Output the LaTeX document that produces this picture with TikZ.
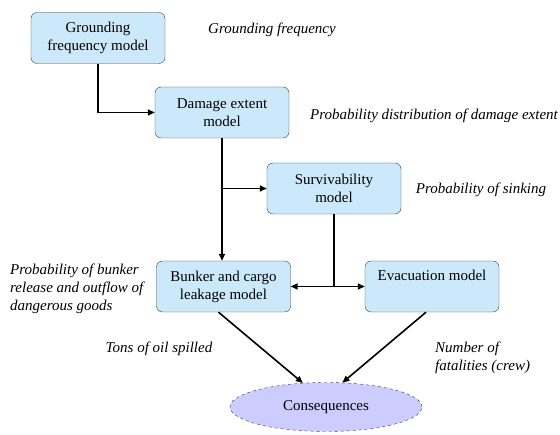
\documentclass[tikz,border=0pt]{standalone}
\usepackage{fontspec}
\setmainfont{Liberation Serif}
\usetikzlibrary{arrows.meta,shapes.geometric,calc}
\definecolor{modelblue}{RGB}{204,233,251}
\definecolor{conslilac}{RGB}{204,204,255}
\definecolor{edgegray}{RGB}{60,60,60}

\begin{document}
\begin{tikzpicture}[x=1pt,y=-1pt,
  model/.style={draw=edgegray, fill=modelblue, rounded corners=6pt, minimum width=134pt,
    minimum height=51pt, inner sep=0pt, align=center, font=\fontsize{15}{18}\selectfont},
  result/.style={ellipse, draw=edgegray, dashed, fill=conslilac, minimum width=192pt,
    minimum height=49pt, inner sep=0pt, font=\fontsize{15}{18}\selectfont},
  note/.style={font=\fontsize{15}{18}\selectfont\itshape, inner sep=0pt},
  flow/.style={line width=1.6pt, -{Triangle[length=7pt,width=6pt]}}]

\useasboundingbox (0,0) rectangle (560,435);

% models
\node [model] (gfm) at (98, 38) {Grounding\\frequency model};
\node [model] (dem) at (222, 112.5) {Damage extent\\model};
\node [model] (surv) at (334, 188.5) {Survivability\\model};
\node [model] (bunker) at (223.5, 286.5) {Bunker and cargo\\leakage model};
\node [model] (evac) at (432, 286.5) {Evacuation model\\\strut};
\node [result] (cons) at (326, 407) {Consequences};

% outputs of the models
\node [note] (tgf) at (272, 30) {Grounding frequency};
\node [note] (tde) at (434, 116) {Probability distribution of damage extent};
\node [note] (tsk) at (481, 190) {Probability of sinking};
\node [note, align=left, anchor=west] (tbk) at (10, 289) {Probability of bunker\\release and outflow of\\dangerous goods};
\node [note] (toil) at (159, 349) {Tons of oil spilled};
\node [note, align=left, anchor=west] (tfat) at (435, 358) {Number of\\fatalities (crew)};

% connectors
\coordinate (split) at (dem.south |- surv.west);
\coordinate (fork) at (surv.south |- bunker.east);

\draw [flow] (gfm.south) |- (dem.west);
\draw [flow] (dem.south) -- (dem.south |- bunker.north);
\draw [flow] (split) -- (surv.west);
\draw [line width=2.2pt] (surv.south) -- (fork);
\draw [flow] (fork) -- (bunker.east);
\draw [flow] (fork) -- (evac.west);
\draw [flow] ($(bunker.south)+(-5,0)$) -- (cons.134);
\draw [flow] ($(evac.south)+(-6,0)$) -- (cons.56);
\end{tikzpicture}
\end{document}
